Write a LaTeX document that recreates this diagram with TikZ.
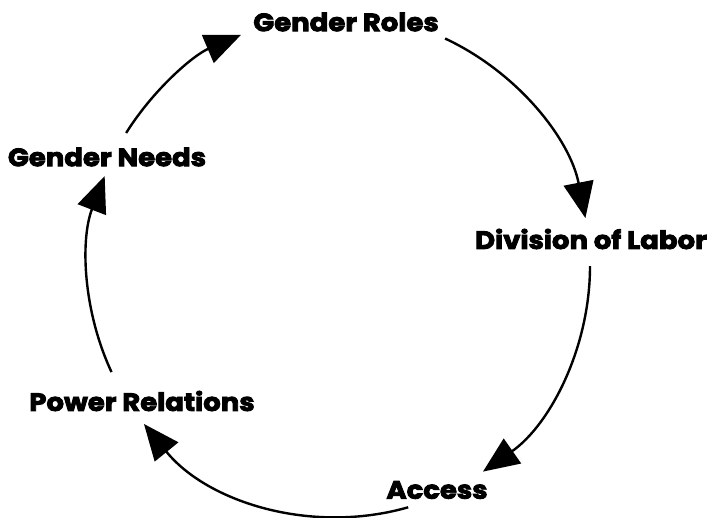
\documentclass[tikz,border=0pt]{standalone}
\usepackage{fontspec}
\setmainfont{Poppins}[BoldFeatures={FakeBold=3.5,FakeStretch=1.1}]
\usetikzlibrary{arrows.meta}

\begin{document}
\begin{tikzpicture}[x=1pt,y=-1pt,line width=2.4pt,>={Triangle[length=36pt,width=30pt]},
	every node/.style={inner sep=0pt,font=\bfseries\fontsize{25}{29}\selectfont}]
	\useasboundingbox (0,0) rectangle (714,517);
	\coordinate (c) at (339,266);

	\node (roles)	at (346,22)		{Gender Roles};
	\node (labor)	at (591,239)	{Division of Labor};
	\node (access)	at (437,490)	{Access};
	\node (power)	at (142,401)	{Power Relations};
	\node (needs)	at (107,157)	{Gender Needs};

	% ends of the arcs on the circle (y runs down, so angles turn clockwise)
	\foreach \name/\ang in {n1/-148,r1/-65,d1/0,a1/74,p1/-205}
		\coordinate (\name) at ([shift={(\ang:251)}]c);

	\draw[->] (n1) arc[start angle=-148,end angle=-113,radius=251];
	\draw[->] (r1) arc[start angle=-65,end angle=-11,radius=251];
	\draw[->] (d1) arc[start angle=0,end angle=55,radius=251];
	\draw[->] (a1) arc[start angle=74,end angle=141,radius=251];
	\draw[->] (p1) arc[start angle=-205,end angle=-159,radius=251];
\end{tikzpicture}
\end{document}
